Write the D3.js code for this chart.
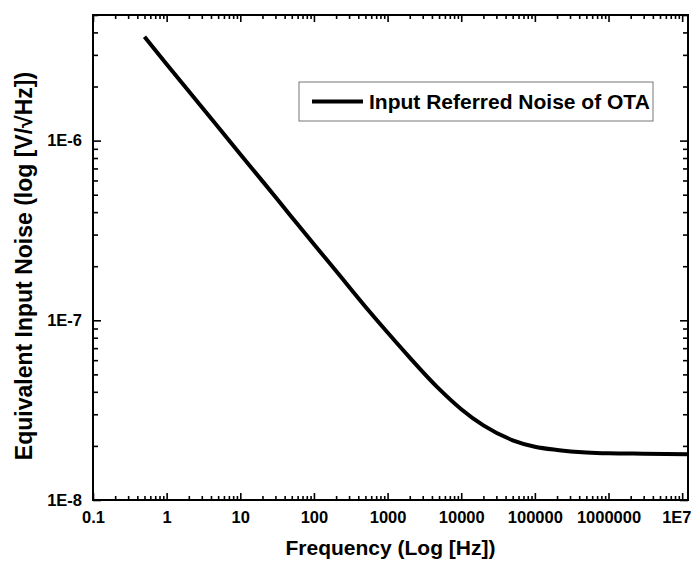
<!DOCTYPE html>
<html>
<head>
<meta charset="utf-8">
<script src="https://cdn.jsdelivr.net/npm/d3@7"></script>
<style>
  body { margin: 0; background: #fff; }
  svg text { font-family: "Liberation Sans", Arial, sans-serif; font-weight: bold; fill: #000; }
</style>
</head>
<body>
<div id="chart"></div>
<script>
// data
var freq  = [0.5, 1, 2, 5, 10, 20, 50, 100, 200, 500, 1000, 2000, 5000, 10000, 20000, 50000, 100000, 200000, 500000, 1000000, 3000000, 12000000];
var noise = [3.78e-6, 2.66e-6, 1.88e-6, 1.19e-6, 8.4e-7, 5.95e-7, 3.75e-7, 2.65e-7, 1.88e-7, 1.19e-7, 8.55e-8, 6.2e-8, 4.15e-8, 3.2e-8, 2.6e-8, 2.15e-8, 1.98e-8, 1.9e-8, 1.84e-8, 1.82e-8, 1.81e-8, 1.8e-8];

var xMajor = [0.1, 1, 10, 100, 1000, 10000, 100000, 1000000, 10000000];
var xLabels = ["0.1", "1", "10", "100", "1000", "10000", "100000", "1000000", "1E7"];
var yMajor = [1e-8, 1e-7, 1e-6];
var yLabels = ["1E-8", "1E-7", "1E-6"];
var seriesName = "Input Referred Noise of OTA";

var width = 692,
    height = 564,
    margin = {top: 15, right: 4, bottom: 64, left: 93};
var w = width - margin.left - margin.right,
    h = height - margin.top - margin.bottom;

var svg = d3.select("#chart")
    .append("svg")
    .attr("width", width)
    .attr("height", height);

var g = svg.append("g")
    .attr("transform", "translate(" + margin.left + "," + margin.top + ")");

var x = d3.scaleLog().domain([0.1, 1.2e7]).range([0, w]);
var y = d3.scaleLog().domain([1e-8, 5e-6]).range([h, 0]);

// minor tick values: 2..9 of every decade inside the domain
function minors(scale) {
  var d = scale.domain(), out = [];
  var lo = Math.floor(Math.log10(d[0])), hi = Math.ceil(Math.log10(d[1]));
  for (var e = lo; e <= hi; e++) {
    for (var k = 2; k <= 9; k++) {
      var v = k * Math.pow(10, e);
      if (v > d[0] && v < d[1]) out.push(v);
    }
  }
  return out;
}
var xMinor = minors(x), yMinor = minors(y);

function fmt(vals, labels) {
  return function(d) { return labels[vals.indexOf(d)]; };
}

function styleAxis(sel) {
  sel.selectAll(".domain").remove();
  sel.selectAll(".tick line").attr("stroke", "#000").attr("stroke-width", 1.6);
  sel.selectAll("text").style("font-size", "16.5px");
}

// bottom
g.append("g").attr("transform", "translate(0," + h + ")")
  .call(d3.axisBottom(x).tickValues(xMinor).tickSize(-4).tickFormat(""))
  .call(styleAxis);
var xAxisG = g.append("g").attr("transform", "translate(0," + h + ")")
  .call(d3.axisBottom(x).tickValues(xMajor).tickSize(-7).tickPadding(11).tickFormat(fmt(xMajor, xLabels)))
  .call(styleAxis);
// last label sits at the right edge, keep it inside the page
xAxisG.selectAll(".tick").filter(function(d) { return d === 10000000; })
  .select("text").attr("text-anchor", "end").attr("x", w - x(10000000) + 3);
// top
g.append("g")
  .call(d3.axisTop(x).tickValues(xMinor).tickSize(-4).tickFormat(""))
  .call(styleAxis);
g.append("g")
  .call(d3.axisTop(x).tickValues(xMajor).tickSize(-7).tickFormat(""))
  .call(styleAxis);
// left
g.append("g")
  .call(d3.axisLeft(y).tickValues(yMinor).tickSize(-5).tickFormat(""))
  .call(styleAxis);
g.append("g")
  .call(d3.axisLeft(y).tickValues(yMajor).tickSize(-8).tickPadding(11).tickFormat(fmt(yMajor, yLabels)))
  .call(styleAxis);
// right
g.append("g").attr("transform", "translate(" + w + ",0)")
  .call(d3.axisRight(y).tickValues(yMinor).tickSize(-5).tickFormat(""))
  .call(styleAxis);
g.append("g").attr("transform", "translate(" + w + ",0)")
  .call(d3.axisRight(y).tickValues(yMajor).tickSize(-8).tickFormat(""))
  .call(styleAxis);

// frame
g.append("rect")
  .attr("width", w).attr("height", h)
  .attr("fill", "none").attr("stroke", "#000").attr("stroke-width", 2);

// curve
var pts = freq.map(function(f, i) { return [f, noise[i]]; });
var line = d3.line()
  .x(function(d) { return x(d[0]); })
  .y(function(d) { return y(d[1]); })
  .curve(d3.curveMonotoneX);

g.append("defs").append("clipPath").attr("id", "clip")
  .append("rect").attr("width", w).attr("height", h);

g.append("path")
  .datum(pts)
  .attr("clip-path", "url(#clip)")
  .attr("fill", "none")
  .attr("stroke", "#000")
  .attr("stroke-width", 4)
  .attr("d", line);

// legend
var lg = g.append("g").attr("transform", "translate(" + (299 - margin.left) + "," + (82 - margin.top) + ")");
lg.append("rect")
  .attr("width", 354).attr("height", 39)
  .attr("fill", "#fff").attr("stroke", "#777").attr("stroke-width", 1);
lg.append("line")
  .attr("x1", 13).attr("x2", 64).attr("y1", 19.5).attr("y2", 19.5)
  .attr("stroke", "#000").attr("stroke-width", 4);
lg.append("text")
  .attr("x", 70).attr("y", 27)
  .style("font-size", "21px")
  .text(seriesName);

// axis titles
svg.append("text")
  .attr("x", margin.left + w / 2).attr("y", 555)
  .attr("text-anchor", "middle")
  .style("font-size", "21px")
  .text("Frequency (Log [Hz])");

svg.append("text")
  .attr("transform", "translate(32,266) rotate(-90)")
  .attr("text-anchor", "middle")
  .style("font-size", "23px")
  .text("Equivalent Input Noise (log [V/\u221AHz])");
</script>
</body>
</html>
